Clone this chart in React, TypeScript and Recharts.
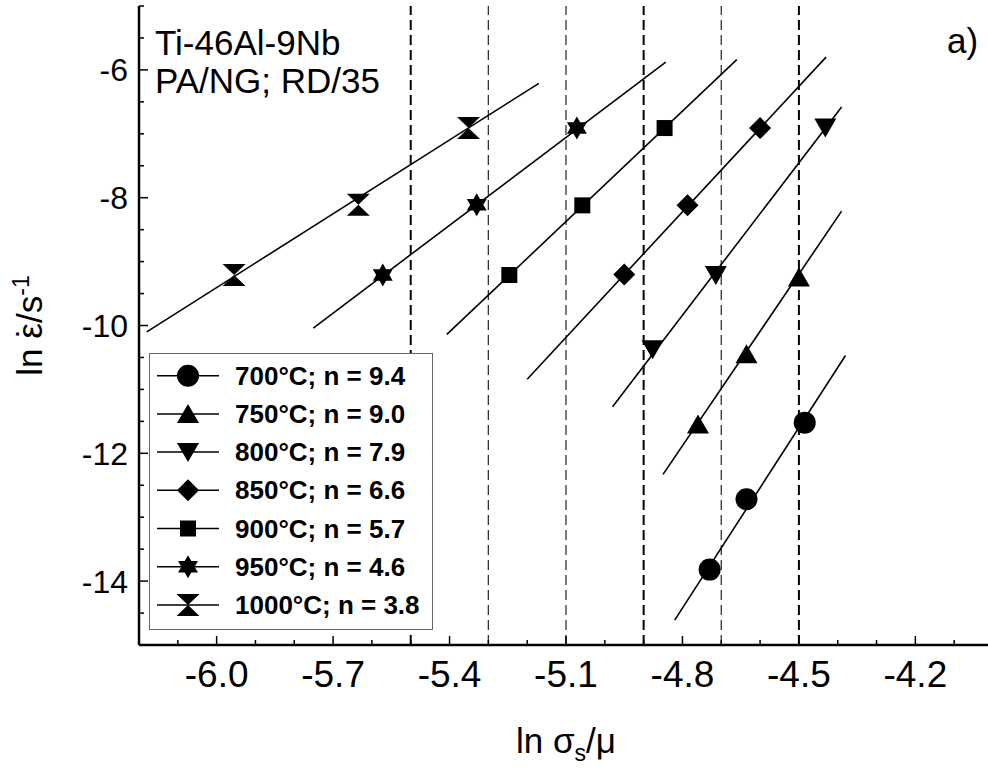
import React from 'react';
import { ComposedChart, Scatter, XAxis, YAxis, ReferenceLine, Legend, Label } from 'recharts';

// ---------- data ----------
const temperatures = ['700', '750', '800', '850', '900', '950', '1000'];
const stressExponents = ['9.4', '9.0', '7.9', '6.6', '5.7', '4.6', '3.8'];

const x700 = [-4.73, -4.635, -4.485];
const y700 = [-13.82, -12.72, -11.52];
const x750 = [-4.76, -4.635, -4.5];
const y750 = [-11.55, -10.45, -9.25];
const x800 = [-4.877, -4.714, -4.432];
const y800 = [-10.37, -9.21, -6.9];
const x850 = [-4.95, -4.787, -4.6];
const y850 = [-9.2, -8.12, -6.91];
const x900 = [-5.246, -5.058, -4.846];
const y900 = [-9.21, -8.12, -6.91];
const x950 = [-5.572, -5.33, -5.072];
const y950 = [-9.21, -8.11, -6.91];
const x1000 = [-5.955, -5.635, -5.351];
const y1000 = [-9.21, -8.11, -6.91];

// fitted lines (end points)
const fitX700 = [-4.82, -4.38];
const fitY700 = [-14.61, -10.47];
const fitX750 = [-4.85, -4.39];
const fitY750 = [-12.33, -8.21];
const fitX800 = [-4.98, -4.39];
const fitY800 = [-11.27, -6.58];
const fitX850 = [-5.2, -4.43];
const fitY850 = [-10.84, -5.8];
const fitX900 = [-5.407, -4.66];
const fitY900 = [-10.14, -5.84];
const fitX950 = [-5.751, -4.843];
const fitY950 = [-10.04, -5.88];
const fitX1000 = [-6.18, -5.17];
const fitY1000 = [-10.1, -6.21];

const dashedX = [-5.5, -5.3, -5.1, -4.9, -4.7, -4.5];

const xTicks = [-6.2, -6.1, -6.0, -5.9, -5.8, -5.7, -5.6, -5.5, -5.4, -5.3, -5.2, -5.1, -5.0, -4.9, -4.8, -4.7, -4.6, -4.5, -4.4, -4.3, -4.2, -4.1, -4.0];
const xMajorTicks = [-6.0, -5.7, -5.4, -5.1, -4.8, -4.5, -4.2];
const yTicks = [-15, -14.5, -14, -13.5, -13, -12.5, -12, -11.5, -11, -10.5, -10, -9.5, -9, -8.5, -8, -7.5, -7, -6.5, -6, -5.5, -5];
const yMajorTicks = [-14, -12, -10, -8, -6];

// ---------- assembly ----------
const markerXs = [x700, x750, x800, x850, x900, x950, x1000];
const markerYs = [y700, y750, y800, y850, y900, y950, y1000];
const fitXs = [fitX700, fitX750, fitX800, fitX850, fitX900, fitX950, fitX1000];
const fitYs = [fitY700, fitY750, fitY800, fitY850, fitY900, fitY950, fitY1000];
const shapes = ['circle', 'triangleUp', 'triangleDown', 'diamond', 'square', 'star', 'hourglass'];

const toPoints = (xs: number[], ys: number[]) => xs.map((x, i) => ({ x, y: ys[i] }));

const FONT = '"Liberation Sans", Arial, Helvetica, sans-serif';

function MarkerShape({ kind, cx, cy }: { kind: string; cx: number; cy: number }) {
  const f = '#000';
  switch (kind) {
    case 'circle':
      return <circle cx={cx} cy={cy} r={11} fill={f} />;
    case 'triangleUp':
      return <path d={`M${cx},${cy - 10}L${cx + 11},${cy + 9}L${cx - 11},${cy + 9}Z`} fill={f} />;
    case 'triangleDown':
      return <path d={`M${cx},${cy + 10}L${cx + 11},${cy - 9}L${cx - 11},${cy - 9}Z`} fill={f} />;
    case 'diamond':
      return <path d={`M${cx},${cy - 11}L${cx + 11},${cy}L${cx},${cy + 11}L${cx - 11},${cy}Z`} fill={f} />;
    case 'square':
      return <rect x={cx - 8} y={cy - 8} width={16} height={16} fill={f} />;
    case 'star': {
      const R = 11.5;
      const r = 6.6;
      let d = '';
      for (let k = 0; k < 12; k++) {
        const ang = (-90 + k * 30) * Math.PI / 180;
        const rad = k % 2 === 0 ? R : r;
        d += (k === 0 ? 'M' : 'L') + (cx + rad * Math.cos(ang)).toFixed(2) + ',' + (cy + rad * Math.sin(ang)).toFixed(2);
      }
      return <path d={d + 'Z'} fill={f} />;
    }
    case 'hourglass':
      return <path d={`M${cx - 11.5},${cy - 11}L${cx + 11.5},${cy - 11}L${cx},${cy}L${cx + 11.5},${cy + 11}L${cx - 11.5},${cy + 11}L${cx},${cy}Z`} fill={f} />;
    default:
      return <g />;
  }
}

const isIn = (v: number, arr: number[]) => arr.some((a) => Math.abs(a - v) < 1e-6);

const BottomTick = (props: any) => {
  const { x, y, payload } = props;
  const v = payload.value as number;
  const major = isIn(v, xMajorTicks);
  return (
    <g>
      <line x1={x} x2={x} y1={y} y2={y - (major ? 9 : 5)} stroke="#000" strokeWidth={1.5} />
      {major && (
        <text x={x} y={y + 42} textAnchor="middle" fontSize={37} fontFamily={FONT} fill="#000">
          {v.toFixed(1)}
        </text>
      )}
    </g>
  );
};

const TopTick = (props: any) => {
  const { x, y, payload } = props;
  const major = isIn(payload.value, xMajorTicks);
  return <line x1={x} x2={x} y1={y} y2={y + (major ? 9 : 5)} stroke="#000" strokeWidth={1.5} />;
};

const LeftTick = (props: any) => {
  const { x, y, payload } = props;
  const v = payload.value as number;
  const major = isIn(v, yMajorTicks);
  return (
    <g>
      <line x1={x} x2={x + (major ? 9 : 5)} y1={y} y2={y} stroke="#000" strokeWidth={1.5} />
      {major && (
        <text x={x - 11} y={y} dy="0.36em" textAnchor="end" fontSize={32} fontFamily={FONT} fill="#000">
          {String(v)}
        </text>
      )}
    </g>
  );
};

const RightTick = (props: any) => {
  const { x, y, payload } = props;
  const major = isIn(payload.value, yMajorTicks);
  return <line x1={x} x2={x - (major ? 9 : 5)} y1={y} y2={y} stroke="#000" strokeWidth={1.5} />;
};

const XTitle = (props: any) => {
  const vb = props.viewBox || { x: 139, y: 645, width: 854, height: 125 };
  const cx = vb.x + vb.width / 2;
  return (
    <text x={cx} y={vb.y + 108} textAnchor="middle" fontSize={35} fontFamily={FONT} fill="#000">
      ln σ<tspan dy={8} fontSize={23}>s</tspan>
      <tspan dy={-8}>/μ</tspan>
    </text>
  );
};

const YTitle = (props: any) => {
  const vb = props.viewBox || { x: 0, y: 6, width: 139, height: 639 };
  const tx = vb.x + 42;
  const ty = vb.y + vb.height / 2;
  return (
    <text x={tx} y={ty} transform={`rotate(-90 ${tx} ${ty})`} textAnchor="middle" fontSize={35} fontFamily={FONT} fill="#000">
      ln ε<tspan dx={-15}>{'\u02D9'}</tspan>
      <tspan dx={3.5}>/s</tspan>
      <tspan dy={-13} fontSize={23}>-1</tspan>
    </text>
  );
};

const renderLegend = () => {
  const w = 284;
  const h = 277;
  return (
    <svg width={w} height={h} style={{ display: 'block' }}>
      <rect x={0.5} y={0.5} width={w - 1} height={h - 1} fill="#fff" stroke="#666" strokeWidth={1} />
      {temperatures.map((t, i) => {
        const cy = 22.7 + i * 38.2;
        return (
          <g key={t}>
            <line x1={8} x2={70} y1={cy} y2={cy} stroke="#000" strokeWidth={1.5} />
            <MarkerShape kind={shapes[i]} cx={39} cy={cy} />
            <text x={86} y={cy + 9} fontSize={26} fontWeight="bold" fontFamily={FONT} fill="#000">
              {`${t}°C; n = ${stressExponents[i]}`}
            </text>
          </g>
        );
      })}
    </svg>
  );
};

const noShape = () => <g />;

export default function App() {
  return (
    <div
      style={{
        position: 'absolute',
        left: 0,
        top: 0,
        width: 988,
        height: 770,
        overflow: 'hidden',
        background: '#fff',
        fontFamily: FONT,
      }}
    >
      <ComposedChart width={993} height={770} margin={{ top: 6, right: 0, bottom: 0, left: 0 }}>
        <XAxis
          xAxisId="b"
          type="number"
          dataKey="x"
          domain={[-6.2, -4.0]}
          ticks={xTicks}
          interval={0}
          allowDataOverflow
          height={125}
          tickSize={0}
          tickMargin={0}
          tickLine={false}
          axisLine={{ stroke: '#000', strokeWidth: 2.5 }}
          tick={<BottomTick />}
          label={<Label content={XTitle} />}
        />
        <XAxis
          xAxisId="t"
          orientation="top"
          type="number"
          dataKey="x"
          domain={[-6.2, -4.0]}
          ticks={xTicks}
          interval={0}
          allowDataOverflow
          height={0}
          tickSize={0}
          tickMargin={0}
          tickLine={false}
          axisLine={{ stroke: '#000', strokeWidth: 2.5 }}
          tick={<TopTick />}
        />
        <YAxis
          yAxisId="l"
          type="number"
          dataKey="y"
          domain={[-15, -5]}
          ticks={yTicks}
          interval={0}
          allowDataOverflow
          width={139}
          tickSize={0}
          tickMargin={0}
          tickLine={false}
          axisLine={{ stroke: '#000', strokeWidth: 2.5 }}
          tick={<LeftTick />}
          label={<Label content={YTitle} />}
        />
        <YAxis
          yAxisId="r"
          orientation="right"
          type="number"
          dataKey="y"
          domain={[-15, -5]}
          ticks={yTicks}
          interval={0}
          allowDataOverflow
          width={0}
          tickSize={0}
          tickMargin={0}
          tickLine={false}
          axisLine={{ stroke: '#000', strokeWidth: 2.5 }}
          tick={<RightTick />}
        />
        {dashedX.map((v, i) => (
          <ReferenceLine
            key={`d${v}`}
            x={v}
            xAxisId="b"
            yAxisId="l"
            stroke={i % 3 === 0 || i === 5 ? '#000' : '#333'}
            strokeWidth={i === 0 || i === 3 || i === 5 ? 2 : 1.3}
            strokeDasharray="10 5"
          />
        ))}
        {temperatures.map((t, i) => (
          <Scatter
            key={`fit${t}`}
            name={`fit ${t}`}
            xAxisId="b"
            yAxisId="l"
            data={toPoints(fitXs[i], fitYs[i])}
            line={{ stroke: '#000', strokeWidth: 1.6 }}
            shape={noShape}
            legendType="none"
            isAnimationActive={false}
          />
        ))}
        {temperatures.map((t, i) => (
          <Scatter
            key={`pts${t}`}
            name={`${t}°C; n = ${stressExponents[i]}`}
            xAxisId="b"
            yAxisId="l"
            data={toPoints(markerXs[i], markerYs[i])}
            shape={(p: any) => <MarkerShape kind={shapes[i]} cx={p.cx} cy={p.cy} />}
            isAnimationActive={false}
          />
        ))}
        <Legend
          layout="vertical"
          align="center"
          verticalAlign="middle"
          content={renderLegend}
          wrapperStyle={{ position: 'absolute', left: 149, top: 353, width: 284, height: 277 }}
        />
      </ComposedChart>
      <div style={{ position: 'absolute', left: 155, top: 25, fontSize: 35, lineHeight: 1, whiteSpace: 'nowrap', color: '#000' }}>
        Ti-46Al-9Nb
      </div>
      <div style={{ position: 'absolute', left: 155, top: 63, fontSize: 35, lineHeight: 1, whiteSpace: 'nowrap', color: '#000' }}>
        PA/NG; RD/35
      </div>
      <div style={{ position: 'absolute', left: 947, top: 23, fontSize: 35, lineHeight: 1, whiteSpace: 'nowrap', color: '#000' }}>
        a)
      </div>
    </div>
  );
}
